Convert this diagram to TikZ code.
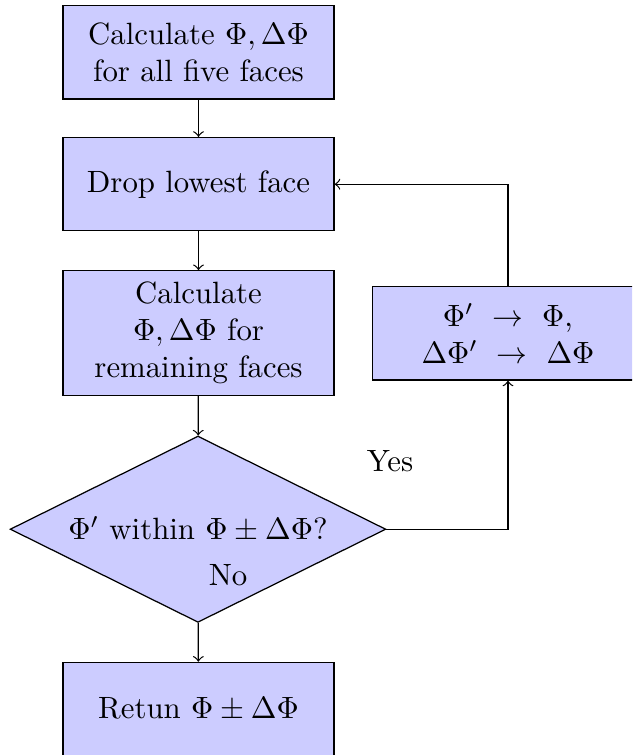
\documentclass[tikz,border=0pt]{standalone}
\usetikzlibrary{shapes.geometric}
\begin{document}
\begin{tikzpicture}[x=0.3247pt, y=-0.3247pt,
  procbox/.style={rectangle, draw=black, fill=blue!20, align=center,
    minimum width=88pt, minimum height=30.3pt, inner sep=2pt},
  decbox/.style={diamond, draw=black, fill=blue!20, aspect=2, inner sep=0pt,
    minimum width=122pt, minimum height=60.5pt},
  lbl/.style={inner sep=0pt},
  conn/.style={->}]
\useasboundingbox (0,0) rectangle (632,755);
\clip (0,0) rectangle (632,755);
\node[procbox] (b1) at (198.5,52.3) {Calculate $\Phi, \Delta\Phi$\\for all five faces};
\node[procbox] (b2) at (198.5,184.2) {Drop lowest face};
\node[procbox, minimum height=40.4pt] (b3) at (198.5,333) {Calculate\\$\Phi, \Delta\Phi$ for\\remaining faces};
\node[decbox] (dia) at (198,529.2) {$\Phi'$ within $\Phi \pm \Delta\Phi$?};
\node[procbox] (b5) at (198.5,709) {Retun $\Phi \pm \Delta\Phi$};
\node[procbox] (rb) at (508,333.3) {$\Phi'\ \rightarrow\ \Phi$,\\$\Delta\Phi'\ \rightarrow\ \Delta\Phi$};
\node[lbl] (yes) at (390,461) {Yes};
\node[lbl] (no) at (228,575) {No};
\draw[conn] (b1) -- (b2);
\draw[conn] (b2) -- (b3);
\draw[conn] (b3) -- (dia);
\draw[conn] (dia) -- (b5);
\draw[conn] (dia.east) -| (rb.south);
\draw[conn] (rb.north) |- (b2.east);
\end{tikzpicture}
\end{document}
